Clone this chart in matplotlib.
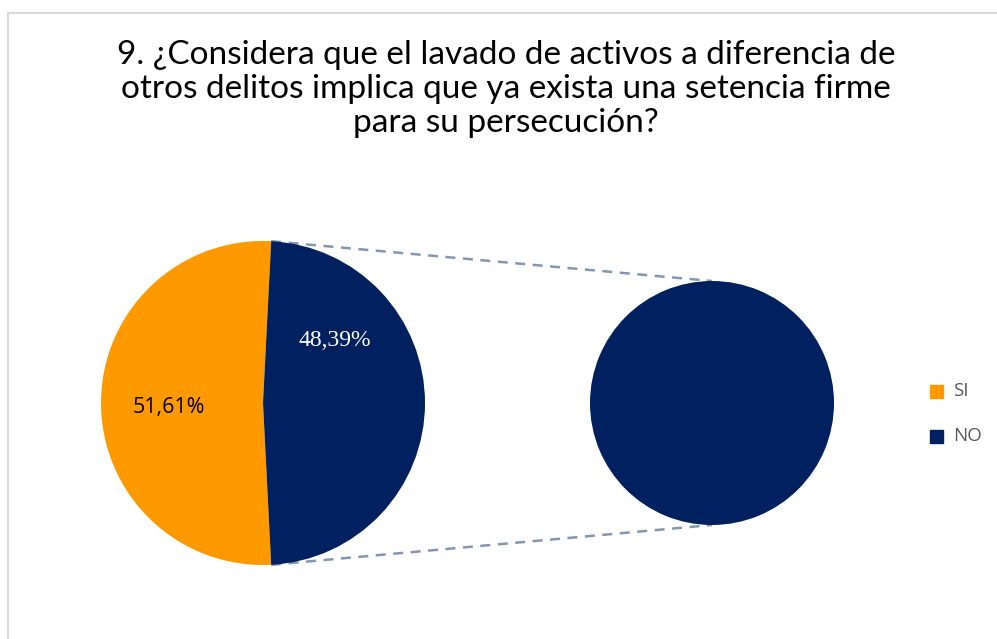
import numpy as np
import matplotlib.pyplot as plt
from matplotlib.lines import Line2D

categories = ["SI", "NO"]
values = [51.61, 48.39]
value_labels = ["51,61%", "48,39%"]
colors = ["#FF9900", "#002060"]
title = ("9. ¿Considera que el lavado de activos a diferencia de\n"
         "otros delitos implica que ya exista una setencia firme\n"
         "para su persecución?")

W, H = 997, 639
fig = plt.figure(figsize=(W / 100, H / 100), dpi=100)
ax = fig.add_axes([0, 0, 1, 1])

# chart border (cut off at right/bottom like the screenshot)
fig.add_artist(Line2D([8 / W, 1], [1 - 13 / H, 1 - 13 / H], color="#D9D9D9", lw=1.5))
fig.add_artist(Line2D([8 / W, 8 / W], [0, 1 - 13 / H], color="#D9D9D9", lw=1.5))

# main pie
c1 = (263, H - 403)
r1 = 162
half = values[1] / 100 * 180
ax.pie(values, colors=colors, center=c1, radius=r1, startangle=half,
       counterclock=True, wedgeprops=dict(linewidth=0), frame=True)

# secondary pie (NO only)
c2 = (712, H - 403)
r2 = 122
ax.pie([values[1]], colors=[colors[1]], center=c2, radius=r2,
       wedgeprops=dict(linewidth=0), frame=True)
ax.set_xlim(0, W)
ax.set_ylim(0, H)
ax.set_aspect("equal")
ax.axis("off")

# connector lines
for sgn in (1, -1):
    a = np.deg2rad(sgn * half)
    x0 = c1[0] + r1 * np.cos(a)
    y0 = c1[1] + r1 * np.sin(a)
    ax.plot([x0, c2[0]], [y0, c2[1] + sgn * r2], color="#8497B0",
            lw=1.8, ls=(0, (4, 3)), zorder=0)

# data labels
ax.text(169, H - 408, value_labels[0], ha="center", va="center",
        fontsize=15.5, family="Open Sans", color="black")
ax.text(335, H - 341, value_labels[1], ha="center", va="center",
        fontsize=17, family="Liberation Serif", color="white")

# title
ax.text(506, H - 89, title, ha="center", va="center", fontsize=24,
        family="Lato", color="black", linespacing=1.17)

# legend
for i, (cat, col) in enumerate(zip(categories, colors)):
    y = H - (391 + 45 * i)
    ax.add_patch(plt.Rectangle((930, y - 6.5), 13, 13, color=col))
    ax.text(953, y, cat, ha="left", va="center", fontsize=13.5,
            family="Open Sans", color="#595959")

fig.savefig("out.png", dpi=100)
